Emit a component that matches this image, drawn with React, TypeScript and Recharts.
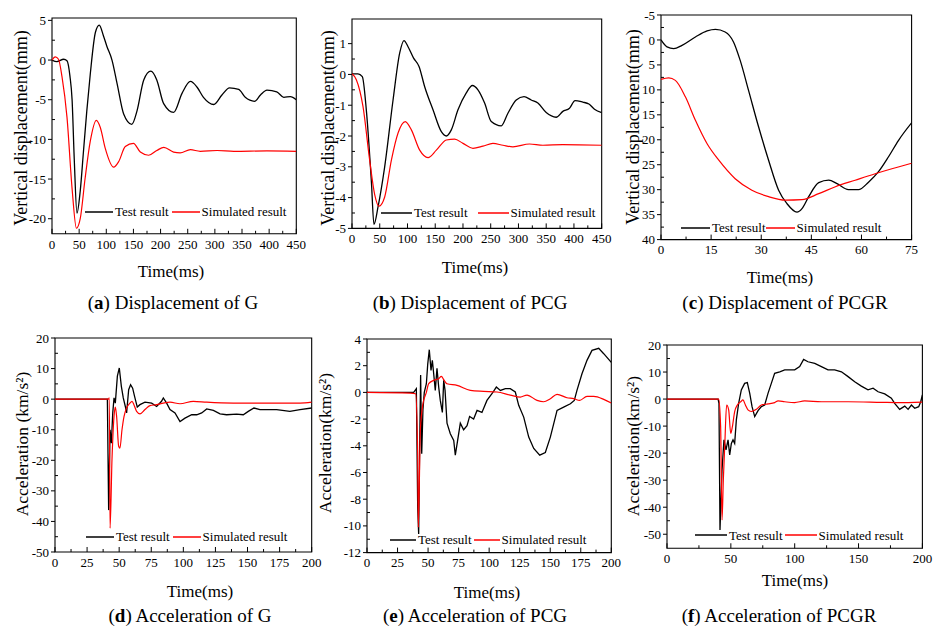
import { LineChart, Line, XAxis, YAxis, ReferenceArea, Legend } from "recharts";

type P = [number, number];

// (a) displacement of G
const gDispTest: P[] = [[0, 0], [9, -0.2], [21.5, 0.1], [27.6, -0.1], [33, -2], [37, -5], [41, -12.5], [46, -19.3], [52, -16.5], [58, -11.5], [64, -6.5], [70.6, -1.7], [80, 3.5], [87, 4.4], [95, 3.0], [101, 1.75], [110.5, 0], [120, -3], [132, -6.8], [147, -8.1], [156.6, -6.4], [169, -2.5], [182, -1.4], [193, -2.5], [205.7, -5.5], [224, -6.6], [239.5, -4.2], [255, -2.7], [267, -3.4], [279, -4.7], [298, -5.6], [313, -4.4], [327, -3.5], [344, -3.7], [356, -4.7], [373, -5.2], [384, -4.4], [396, -3.8], [414, -4.0], [427, -4.7], [439, -4.6], [450, -5.0]];
const gDispSim: P[] = [[0, 0], [6, 0.4], [12, 0.1], [18.4, -2.1], [27.6, -7.2], [37, -16.2], [45, -21.2], [52, -20], [61, -14.9], [70.6, -10.2], [81.7, -7.6], [89, -8.5], [98, -11.1], [113.6, -13.5], [122.8, -12.8], [135, -10.9], [150, -10.5], [162.7, -11.6], [178, -12.0], [193, -11.4], [206, -11.0], [224, -11.6], [236, -11.7], [255, -11.3], [273, -11.5], [304, -11.4], [335, -11.5], [396, -11.45], [450, -11.5]];

// (b) displacement of PCG
const pcgDispTest: P[] = [[0, 0.02], [10.8, 0.02], [18.6, -0.07], [25.8, -1.15], [35, -3.5], [39.6, -4.87], [46.9, -4.3], [58.9, -3.0], [74, -0.83], [86, 0.7], [93.7, 1.1], [101, 0.9], [111, 0.53], [120.8, 0.26], [131, -0.4], [146, -1.15], [161, -1.86], [170, -2.0], [179, -1.8], [191, -1.15], [206, -0.6], [217, -0.36], [227, -0.5], [239, -0.93], [251, -1.53], [269, -1.67], [281, -1.26], [296, -0.83], [310, -0.72], [323, -0.83], [335, -0.93], [350, -1.24], [368, -1.39], [380, -1.2], [392, -1.1], [402, -0.85], [416, -0.9], [427, -0.96], [437, -1.13], [450, -1.24]];
const pcgDispSim: P[] = [[0, 0.02], [7.8, -0.17], [19.8, -1.04], [31.8, -2.78], [40.9, -3.9], [48.7, -4.28], [58.9, -3.98], [71, -2.78], [83, -1.9], [96, -1.53], [107, -1.8], [122, -2.46], [137, -2.7], [152, -2.46], [170, -2.13], [185, -2.1], [200, -2.24], [218, -2.4], [236, -2.33], [254, -2.24], [272, -2.3], [290, -2.35], [320, -2.26], [344, -2.3], [380, -2.28], [450, -2.3]];

// (c) displacement of PCGR
const pcgrDispTest: P[] = [[0, 0], [1.8, 1.4], [3.8, 1.75], [6.3, 1.07], [10.3, -0.6], [13.8, -1.8], [16.3, -2.1], [19.2, -1.6], [21.7, 0.4], [23.7, 4.1], [26.2, 10.1], [29.2, 17.4], [32.2, 24.1], [35.2, 30.1], [37.7, 32.8], [40.7, 34.5], [42.2, 33.8], [44.2, 31.4], [47.2, 28.6], [50.2, 28.1], [52.7, 28.8], [56.1, 30], [59.1, 30], [62.1, 28.5], [65.1, 26.4], [68.1, 23.4], [71.1, 20.1], [75, 16.6]];
const pcgrDispSim: P[] = [[0, 7.9], [2.3, 7.6], [4.3, 8.1], [7.3, 11.4], [10.3, 16.1], [13.8, 20.8], [17.3, 24.1], [22.2, 27.8], [27.2, 30.1], [32.2, 31.4], [37.2, 32.1], [42.2, 32.0], [47.2, 30.8], [52.2, 29.4], [58.1, 28.1], [64.1, 26.8], [69.1, 25.8], [75, 24.7]];

// (d) acceleration of G
const gAccTest: P[] = [[0, 0], [40.8, 0], [41.8, -36.3], [42.9, -10], [43.9, -14.4], [45, -4.5], [46, 0.4], [47, -1.3], [48.6, 7.5], [50.1, 10.2], [51.7, 4.2], [53.2, 0.4], [54.8, -2.4], [55.8, -4.5], [57.4, 3.1], [58.9, 4.7], [60.5, 3.6], [62, 0.9], [64.1, -2.6], [66.2, -1.8], [70.1, -1.0], [75.3, -1.3], [79.2, -2.4], [83, -0.7], [84.4, 0.4], [87, -1.3], [89.6, -3.4], [93.5, -4.5], [97.4, -7.3], [101.3, -6.2], [106.5, -5.1], [110.4, -5.1], [114.3, -4.5], [118.2, -3.2], [123.4, -3.7], [128.6, -4.8], [133.7, -5.1], [141.5, -4.9], [146.7, -5.1], [150.6, -4.0], [155, -2.9], [159.7, -3.4], [172.7, -3.4], [183, -4.0], [190.9, -3.4], [200, -2.9]];
const gAccSim: P[] = [[0, 0], [41.5, 0], [42.3, 0.4], [42.9, -42.2], [44.4, -19.8], [46, -5.6], [47, -2.6], [48, -5.6], [49.6, -15.4], [50.6, -16], [52.2, -10], [53.8, -5.6], [55.8, -2.9], [58.4, -1.3], [60, -0.7], [61.5, -1.8], [63.6, -4.0], [66.2, -4.8], [70.1, -3.4], [74, -2.1], [79.2, -1.8], [84.4, -1.3], [89.6, -1.0], [97.4, -1.5], [107.8, -0.7], [118.2, -1.0], [139, -1.3], [165, -1.3], [190.9, -1.3], [200, -1.0]];

// (e) acceleration of PCG
const pcgAccTest: P[] = [[0, 0], [38.2, 0], [40.4, 0.28], [41.5, -8.6], [42.3, -10.6], [43.1, -4.1], [43.9, 1.3], [44.8, -4.6], [45.8, -1.3], [46.9, 0], [48.6, 0.65], [49.7, 2.1], [51, 3.2], [52.4, 1.65], [53.5, 2.4], [54.6, 1.4], [55.9, 0.15], [57.3, 1.8], [58.7, 0.4], [60, -0.6], [61.7, -1.5], [62.8, 0.9], [63.9, 0.15], [65.5, -2.3], [68.2, -3.1], [71, -3.6], [72.3, -4.7], [74.2, -3.6], [76.4, -2.3], [79.1, -2.8], [81.9, -2.5], [84, -1.8], [87.3, -2.0], [90.1, -1.35], [94.1, -1.5], [98.2, -0.6], [102.3, -0.1], [105.9, 0.4], [109.2, 0.15], [113.3, 0.28], [117.3, 0.28], [121.4, 0.03], [124.2, -0.97], [128.3, -1.85], [132.4, -3.35], [136.5, -4.2], [141.4, -4.7], [146, -4.5], [150.1, -3.35], [155.6, -1.35], [161, -1.1], [166.5, -0.85], [169.7, -0.6], [171.9, 0.15], [176, 1.4], [180.1, 2.4], [184.2, 3.15], [189.7, 3.3], [193.8, 2.9], [200, 2.25]];
const pcgAccSim: P[] = [[0, 0], [35.5, -0.05], [39.8, -0.1], [41.5, -4.6], [42, -10.1], [43.7, -2.8], [45.8, -0.85], [48.6, 0], [50.5, 0.65], [54.6, 0.9], [58.7, 1.03], [60.9, 1.2], [62.8, 0.95], [65.5, 0.65], [73.7, 0.53], [84.6, 0.15], [95.5, 0.08], [106.4, 0.03], [117.3, -0.2], [125.5, -0.35], [131, -0.2], [139.2, -0.6], [144.6, -0.7], [150.1, -0.47], [155.6, -0.15], [163.7, -0.4], [169.2, -0.47], [174.1, -0.6], [180.1, -0.3], [185.6, -0.3], [193.8, -0.52], [200, -0.8]];

// (f) acceleration of PCGR
const pcgrAccTest: P[] = [[0, 0], [40, 0], [40.7, -1.6], [41.5, -48.4], [43.1, -26.2], [44.6, -15.1], [46.2, -18.8], [47.8, -15.1], [49.1, -20.7], [50.4, -16.4], [51.7, -15.1], [53, -16.4], [54.3, -7.7], [56.1, -1.6], [58.2, 3.4], [60.8, 5.8], [62.9, 6.1], [64.8, 2.1], [66.6, -2.8], [68.7, -6.5], [71.3, -4.3], [73.9, -2.8], [76.5, -2.2], [79.1, 2.1], [81.7, 5.8], [84.3, 9.5], [88.3, 10.1], [92.2, 10.8], [96.1, 10.8], [100, 10.8], [103.9, 12], [107, 14.7], [110.4, 13.8], [115.7, 13.2], [120.9, 12], [126.1, 10.8], [131.3, 10.8], [136.6, 10.1], [141.8, 8.3], [147, 6.4], [152.2, 4.8], [157.4, 3.4], [161.4, 4.0], [165.3, 2.7], [170.5, 1.9], [175.7, 0.3], [178.3, -1.6], [182.2, -3.8], [186.2, -2.6], [188.8, -3.8], [191.4, -2.2], [194, -3.4], [197.1, -2.8], [198.7, -1.0], [200, 1.5]];
const pcgrAccSim: P[] = [[0, 0], [40.5, 0], [42, -10.2], [43.1, -44.7], [44.1, -30], [45.2, -17.6], [46.7, -2.2], [48.3, -4], [49.9, -12.7], [51.2, -10.2], [53, -4.6], [55.1, -2.2], [57.7, -1.0], [59.5, -0.3], [61.4, -2.2], [63.4, -4], [66, -4.6], [70, -3.8], [73.9, -2.2], [79.1, -1.8], [84.3, -1.3], [87, -0.7], [92.2, -1.0], [100, -1.3], [107.8, -0.7], [120.9, -1.0], [141.8, -1.0], [167.9, -1.2], [180.9, -1.3], [200, -1.1]];

// tick labels
const x450 = [0, 50, 100, 150, 200, 250, 300, 350, 400, 450];
const x75 = [0, 15, 30, 45, 60, 75];
const x200by25 = [0, 25, 50, 75, 100, 125, 150, 175, 200];
const x200by50 = [0, 50, 100, 150, 200];
const yA = [-20, -15, -10, -5, 0, 5];
const yB = [-5, -4, -3, -2, -1, 0, 1];
const yC = [-5, 0, 5, 10, 15, 20, 25, 30, 35, 40];
const yD = [-50, -40, -30, -20, -10, 0, 10, 20];
const yE = [-12, -10, -8, -6, -4, -2, 0, 2, 4];
const yF = [-50, -40, -30, -20, -10, 0, 10, 20];

const FONT = '"Liberation Serif", "Times New Roman", serif';
const TM = 5;

const pts = (a: P[]) => a.map(([t, v]) => ({ t, v }));
const withMinor = (m: number[]) =>
  m.flatMap((v, i) => (i < m.length - 1 ? [v, (v + m[i + 1]) / 2] : [v]));

// y ticks: major outward, minor inward
const yTick = (majors: number[]) => (p: any) => {
  const v = p.payload.value;
  const major = majors.includes(v);
  const ax = p.x + TM;
  return (
    <g>
      <line x1={ax} x2={major ? ax - 4 : ax + 3} y1={p.y} y2={p.y} stroke="#000" />
      {major && (
        <text x={p.x - 1} y={p.y} dy="0.35em" textAnchor="end" fontSize={13} fontFamily={FONT} fill="#000">
          {v}
        </text>
      )}
    </g>
  );
};

const xTick = (majors: number[]) => (p: any) => {
  const v = p.payload.value;
  const major = majors.includes(v);
  const ay = p.y - TM;
  return (
    <g>
      <line x1={p.x} x2={p.x} y1={ay} y2={ay - (major ? 5 : 3)} stroke="#000" />
      {major && (
        <text x={p.x} y={p.y} dy="0.75em" textAnchor="middle" fontSize={13} fontFamily={FONT} fill="#000">
          {v}
        </text>
      )}
    </g>
  );
};

const legendContent = (lineLen: number, gap: number) => (props: any) => {
  const items = [...(props.payload || [])].sort((a: any) => (a.value === "Test result" ? -1 : 1));
  return (
    <div style={{ display: "flex", alignItems: "center", fontFamily: FONT, fontSize: 13, whiteSpace: "nowrap", lineHeight: "15px", color: "#000" }}>
      {items.map((e: any, i: number) => (
        <span key={i} style={{ display: "flex", alignItems: "center", marginRight: gap }}>
          <svg width={lineLen} height={4}>
            <line x1={0} y1={2} x2={lineLen} y2={2} stroke={e.color} strokeWidth={1.5} />
          </svg>
          <span style={{ marginLeft: 2 }}>{e.value}</span>
        </span>
      ))}
    </div>
  );
};

interface PanelProps {
  frame: [number, number, number, number];
  xDomain: [number, number];
  xMajor: number[];
  yDomain: [number, number];
  yMajor: number[];
  reversed?: boolean;
  test: P[];
  sim: P[];
  testType: "monotone" | "linear";
  legend: [number, number, number, number];
}

function Panel({ frame, xDomain, xMajor, yDomain, yMajor, reversed, test, sim, testType, legend }: PanelProps) {
  const [x0, y0, x1, y1] = frame;
  const padL = 60, padT = 10, padR = 15, padB = 30;
  const left = x0 - padL;
  const top = y0 - padT;
  const W = x1 - x0 + padL + padR;
  const H = y1 - y0 + padT + padB;
  const yTicks = withMinor(yMajor).filter((v) => v >= Math.min(...yDomain) && v <= Math.max(...yDomain));
  return (
    <div style={{ position: "absolute", left, top }}>
      <LineChart width={W} height={H} margin={{ top: padT, right: padR, bottom: 0, left: 0 }}>
        <XAxis
          type="number"
          dataKey="t"
          domain={xDomain}
          ticks={withMinor(xMajor)}
          interval={0}
          tickSize={0}
          tickMargin={TM}
          tick={xTick(xMajor)}
          axisLine={false}
          height={padB}
          allowDataOverflow
        />
        <YAxis
          type="number"
          domain={yDomain}
          ticks={yTicks}
          interval={0}
          tickSize={0}
          tickMargin={TM}
          tick={yTick(yMajor)}
          axisLine={false}
          width={padL}
          reversed={reversed}
          allowDataOverflow
        />
        <ReferenceArea x1={xDomain[0]} x2={xDomain[1]} y1={yDomain[0]} y2={yDomain[1]} fill="none" stroke="#000" strokeWidth={1.1} />
        <Line data={pts(test)} dataKey="v" name="Test result" type={testType} stroke="#000" strokeWidth={1.3} dot={false} isAnimationActive={false} />
        <Line data={pts(sim)} dataKey="v" name="Simulated result" type="monotone" stroke="#ff0000" strokeWidth={1.2} dot={false} isAnimationActive={false} />
        <Legend
          layout="horizontal"
          verticalAlign="middle"
          align="center"
          content={legendContent(legend[2], legend[3])}
          wrapperStyle={{ left: legend[0] - left, top: legend[1] - top - 7.5, width: "auto", height: "auto" }}
        />
      </LineChart>
    </div>
  );
}

function Txt({ x, y, size, rotate, children }: { x: number; y: number; size: number; rotate?: boolean; children: any }) {
  return (
    <div
      style={{
        position: "absolute",
        left: x,
        top: y,
        transform: `translate(-50%, -50%)${rotate ? " rotate(-90deg)" : ""}`,
        fontFamily: FONT,
        fontSize: size,
        whiteSpace: "nowrap",
        lineHeight: 1,
        color: "#000",
      }}
    >
      {children}
    </div>
  );
}

export default function App() {
  return (
    <div style={{ position: "absolute", left: 0, top: 0, width: 942, height: 628, background: "#fff", overflow: "hidden" }}>
      <Panel frame={[51.7, 18.2, 296, 234]} xDomain={[0, 450]} xMajor={x450} yDomain={[-21.9, 5.3]} yMajor={yA} test={gDispTest} sim={gDispSim} testType="monotone" legend={[85, 212, 28, 3]} />
      <Panel frame={[352.3, 19.3, 602, 228.7]} xDomain={[0, 450]} xMajor={x450} yDomain={[-5, 1.8]} yMajor={yB} test={pcgDispTest} sim={pcgDispSim} testType="monotone" legend={[381, 212.7, 31, 10]} />
      <Panel frame={[660.7, 14.7, 911.3, 239.3]} xDomain={[0, 75]} xMajor={x75} yDomain={[-5, 40]} yMajor={yC} reversed test={pcgrDispTest} sim={pcgrDispSim} testType="monotone" legend={[681, 227.7, 29, 0]} />
      <Panel frame={[55, 338.3, 311.7, 552.3]} xDomain={[0, 200]} xMajor={x200by25} yDomain={[-50, 20]} yMajor={yD} test={gAccTest} sim={gAccSim} testType="linear" legend={[86, 536.7, 28, 3]} />
      <Panel frame={[366.7, 338.7, 611, 552.3]} xDomain={[0, 200]} xMajor={x200by25} yDomain={[-12, 4]} yMajor={yE} test={pcgAccTest} sim={pcgAccSim} testType="linear" legend={[390, 540, 26, 2]} />
      <Panel frame={[667.3, 345, 922.7, 548.3]} xDomain={[0, 200]} xMajor={x200by50} yDomain={[-55.2, 20]} yMajor={yF} test={pcgrAccTest} sim={pcgrAccSim} testType="linear" legend={[695, 535, 32, 2]} />

      <Txt x={21} y={128} size={18} rotate>Vertical displacement(mm)</Txt>
      <Txt x={328} y={128} size={18} rotate>Vertical displacement(mm)</Txt>
      <Txt x={633} y={127} size={18} rotate>Vertical displacement(mm)</Txt>
      <Txt x={23} y={444} size={17.5} rotate>Acceleration (km/s²)</Txt>
      <Txt x={326} y={443} size={17.5} rotate>Acceleration(km/s²)</Txt>
      <Txt x={634} y={446} size={17.5} rotate>Acceleration(km/s²)</Txt>

      <Txt x={171} y={271} size={17}>Time(ms)</Txt>
      <Txt x={475} y={267} size={17}>Time(ms)</Txt>
      <Txt x={780} y={277} size={17}>Time(ms)</Txt>
      <Txt x={200} y={591} size={17}>Time(ms)</Txt>
      <Txt x={487} y={592} size={17}>Time(ms)</Txt>
      <Txt x={795} y={580} size={17}>Time(ms)</Txt>

      <Txt x={173} y={302} size={19}>(<b>a</b>) Displacement of G</Txt>
      <Txt x={470} y={302} size={19}>(<b>b</b>) Displacement of PCG</Txt>
      <Txt x={785} y={302} size={19}>(<b>c</b>) Displacement of PCGR</Txt>
      <Txt x={190} y={615} size={19}>(<b>d</b>) Acceleration of G</Txt>
      <Txt x={475} y={615} size={19}>(<b>e</b>) Acceleration of PCG</Txt>
      <Txt x={779} y={615} size={19}>(<b>f</b>) Acceleration of PCGR</Txt>
    </div>
  );
}
